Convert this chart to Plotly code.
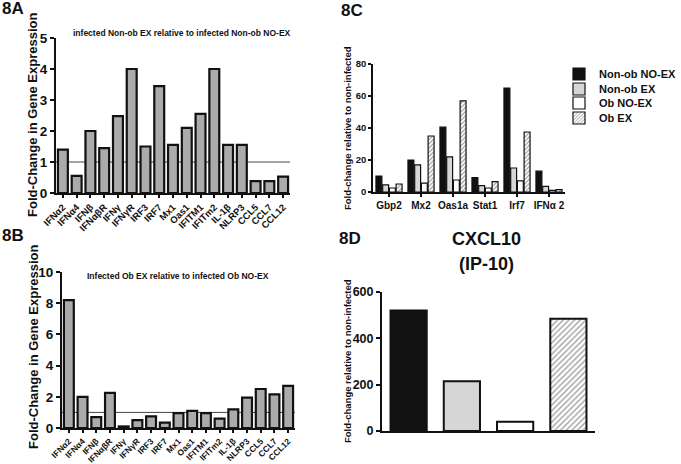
import plotly.graph_objects as go

# ---------------- data ----------------
genes_ab = ["IFNα2", "IFNα4", "IFNβ", "IFNαβR", "IFNγ", "IFNγR", "IRF3", "IRF7", "Mx1",
            "Oas1", "IFITM1", "IFITm2", "IL-1β", "NLRP3", "CCL5", "CCL7", "CCL12"]
fold_a = [1.4, 0.55, 2.0, 1.45, 2.48, 4.0, 1.5, 3.45, 1.55, 2.1, 2.55, 4.0, 1.55, 1.55, 0.38, 0.38, 0.53]
fold_b = [8.2, 2.0, 0.7, 2.25, 0.1, 0.5, 0.75, 0.35, 0.95, 1.1, 0.95, 0.6, 1.2, 1.95, 2.5, 2.15, 2.7]
title_a = "infected Non-ob EX relative to infected Non-ob NO-EX"
title_b = "Infected Ob EX relative to infected Ob NO-EX"
ytitle_ab = "Fold-Change in Gene Expression"

genes_c = ["Gbp2", "Mx2", "Oas1a", "Stat1", "Irf7", "IFNα 2"]
groups = ["Non-ob NO-EX", "Non-ob EX", "Ob NO-EX", "Ob EX"]
c_nonob_noex = [10, 20, 40.5, 9, 65, 13]
c_nonob_ex = [4.5, 17, 22, 4, 15, 3.5]
c_ob_noex = [2.5, 5.5, 7.5, 2.5, 7, 1]
c_ob_ex = [5, 35, 57, 6.5, 37.5, 1.5]
ytitle_cd = "Fold-change relative to non-infected"

cxcl10 = [520, 215, 40, 485]

# ---------------- styling ----------------
W, H = 681, 464
FONT = "Liberation Sans"
fills = ["#111111", "#d6d6d6", "#ffffff", "#ffffff"]
patterns = ["", "", "", "/"]
GRAY = "#ababab"


def px_x(a, b):
    return [a / W, b / W]


def px_y(bottom, top):
    return [1 - bottom / H, 1 - top / H]


fig = go.Figure()

# Panel A
fig.add_trace(go.Bar(x=genes_ab, y=fold_a, xaxis="x", yaxis="y", width=0.72,
                     marker=dict(color=GRAY, line=dict(color="#111", width=2.2)), showlegend=False))
# Panel B
fig.add_trace(go.Bar(x=genes_ab, y=fold_b, xaxis="x2", yaxis="y2", width=0.72,
                     marker=dict(color=GRAY, line=dict(color="#111", width=2.2)), showlegend=False))
# Panel C
series_c = [c_nonob_noex, c_nonob_ex, c_ob_noex, c_ob_ex]
for i, (name, vals) in enumerate(zip(groups, series_c)):
    fig.add_trace(go.Bar(
        x=genes_c, y=vals, name=name, xaxis="x3", yaxis="y3",
        legend="legend" if i == 0 else f"legend{i+1}",
        marker=dict(color=fills[i], line=dict(color="#111", width=1.2),
                    pattern=dict(shape=patterns[i], fgcolor="#222", bgcolor="#fff",
                                 size=3, solidity=0.35)),
    ))
# Panel D
fig.add_trace(go.Bar(
    x=groups, y=cxcl10, xaxis="x4", yaxis="y4", width=0.68, showlegend=False,
    marker=dict(color=fills, line=dict(color="#111", width=2),
                pattern=dict(shape=patterns, fgcolor="#222", bgcolor="#fff",
                             size=4, solidity=0.35)),
))

axis_common = dict(showline=True, linecolor="#111", linewidth=2, ticks="outside",
                   tickcolor="#111", tickwidth=2, ticklen=4, showgrid=False,
                   zeroline=False, fixedrange=True, automargin=False)
bold = dict(family=FONT, color="#111", weight="bold")

layout = dict(
    width=W, height=H, margin=dict(l=0, r=0, t=0, b=0, autoexpand=False),
    paper_bgcolor="white", plot_bgcolor="white",
    barmode="group", bargap=0.16, bargroupgap=0.12,
    font=dict(family=FONT, color="#111"),
    # A
    xaxis=dict(axis_common, domain=px_x(56, 290), anchor="y", range=[-0.5, 16.5],
               tickangle=-45, tickfont=dict(bold, size=9.5), ticklen=3),
    yaxis=dict(axis_common, domain=px_y(193, 38), anchor="x", range=[0, 5], dtick=1,
               tickfont=dict(bold, size=13.5)),
    # B
    xaxis2=dict(axis_common, domain=px_x(62, 295), anchor="y2", range=[-0.5, 16.5],
                tickangle=-45, tickfont=dict(bold, size=8.5), ticklen=3),
    yaxis2=dict(axis_common, domain=px_y(428, 272), anchor="x2", range=[0, 10], dtick=2,
                tickfont=dict(bold, size=13.5)),
    # C
    xaxis3=dict(axis_common, domain=px_x(373, 565), anchor="y3", range=[-0.5, 5.5],
                tickfont=dict(bold, size=10), ticklen=3, linewidth=1.5, tickwidth=1.5),
    yaxis3=dict(axis_common, domain=px_y(192, 64), anchor="x3", range=[0, 80], dtick=20,
                tickfont=dict(bold, size=9.5), linewidth=1.5, tickwidth=1.5, ticklen=3),
    # D
    xaxis4=dict(axis_common, domain=px_x(382, 595), anchor="y4", range=[-0.5, 3.5],
                showticklabels=False, ticks=""),
    yaxis4=dict(axis_common, domain=px_y(431, 292), anchor="x4", range=[0, 600], dtick=200,
                tickfont=dict(bold, size=12.5)),
)

legend_rows = [74, 89, 103, 118]
for i, yrow in enumerate(legend_rows):
    key = "legend" if i == 0 else f"legend{i+1}"
    layout[key] = dict(x=559 / W, y=1 - yrow / H, xanchor="left", yanchor="middle",
                       bgcolor="rgba(0,0,0,0)", borderwidth=0, itemwidth=30,
                       font=dict(bold, size=11), tracegroupgap=0)

fig.update_layout(**layout)

# reference lines at fold-change = 1
for xr, yr in [("x", "y"), ("x2", "y2")]:
    fig.add_shape(type="line", xref=f"{xr} domain", yref=yr, x0=0, x1=1, y0=1, y1=1,
                  line=dict(color="#444", width=1), layer="below")

# panel titles and labels
ann = [
    dict(text=title_a, x=182 / W, y=1 - 33 / H, font=dict(bold, size=8.5)),
    dict(text=title_b, x=178 / W, y=1 - 276 / H, font=dict(bold, size=8.5)),
    dict(text="CXCL10", x=486 / W, y=1 - 239 / H, font=dict(bold, size=18)),
    dict(text="(IP-10)", x=486 / W, y=1 - 264 / H, font=dict(bold, size=18)),
    dict(text="8A", x=13 / W, y=1 - 9 / H, font=dict(bold, size=17)),
    dict(text="8B", x=13 / W, y=1 - 236 / H, font=dict(bold, size=17)),
    dict(text="8C", x=352 / W, y=1 - 11 / H, font=dict(bold, size=17)),
    dict(text="8D", x=350 / W, y=1 - 238 / H, font=dict(bold, size=17)),
    dict(text=ytitle_ab, x=33 / W, y=1 - 115 / H, textangle=-90, font=dict(bold, size=13)),
    dict(text=ytitle_ab, x=33 / W, y=1 - 347 / H, textangle=-90, font=dict(bold, size=13)),
    dict(text=ytitle_cd, x=347 / W, y=1 - 128 / H, textangle=-90, font=dict(bold, size=9.5)),
    dict(text=ytitle_cd, x=347 / W, y=1 - 361 / H, textangle=-90, font=dict(bold, size=9.5)),
]
for a in ann:
    fig.add_annotation(xref="paper", yref="paper", showarrow=False,
                       xanchor="center", yanchor="middle", **a)

fig.write_html("out.html", config={"displayModeBar": False},
               post_script="document.body.style.margin='0';document.body.style.overflow='hidden';")
